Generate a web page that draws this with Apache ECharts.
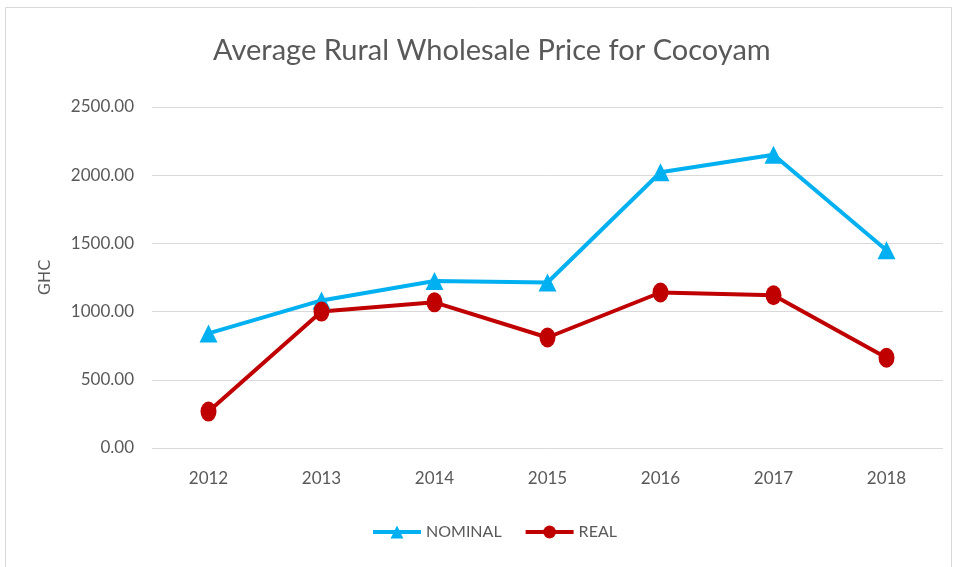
<!DOCTYPE html>
<html><head><meta charset="utf-8">
<script src="https://cdn.jsdelivr.net/npm/echarts@6/dist/echarts.min.js"></script>
<style>html,body{margin:0;padding:0;background:#fff}#c{width:955px;height:567px}</style>
</head><body><div id="c"></div>
<script>
const years = ['2012','2013','2014','2015','2016','2017','2018'];
const nominal = [840, 1082, 1225, 1213, 2022, 2150, 1450];
const real = [267, 1000, 1068, 810, 1140, 1120, 662];
const yTicks = [0, 500, 1000, 1500, 2000, 2500];

const chart = echarts.init(document.getElementById('c'));
const txt = '#595959';
const font = 'Lato, "Open Sans", sans-serif';
chart.setOption({
  animation: false,
  graphic: [{type:'rect', shape:{x:5.5,y:7.5,width:946,height:570}, style:{fill:'none', stroke:'#d9d9d9', lineWidth:1}}],
  title: {text:'Average Rural Wholesale Price for Cocoyam', left:208, top:31,
    textStyle:{fontFamily:font, fontSize:29, fontWeight:'normal', color:txt}},
  legend: {bottom:22, left:366, itemWidth:48, itemHeight:16, itemGap:22,
    textStyle:{fontFamily:font, fontSize:16, color:txt},
    lineStyle:{width:4},
    data:['NOMINAL','REAL']},
  grid: {left:152, right:12, top:107, bottom:119},
  xAxis: {type:'category', data:years, boundaryGap:true,
    axisLine:{show:false}, axisTick:{show:false},
    axisLabel:{fontFamily:font, fontSize:17, color:txt, margin:22}},
  yAxis: {type:'value', min:0, max:2500, interval:500,
    name:'GHC', nameLocation:'middle', nameRotate:90, nameGap:98,
    nameTextStyle:{fontFamily:'"DejaVu Sans", sans-serif', fontSize:16, color:txt},
    axisLine:{show:false}, axisTick:{show:false},
    splitLine:{lineStyle:{color:'#d9d9d9', width:1}},
    axisLabel:{fontFamily:font, fontSize:17, color:txt, margin:18,
      formatter: v => yTicks.includes(v) ? v.toFixed(2) : ''}},
  series: [
    {name:'NOMINAL', type:'line', data:nominal, symbol:'triangle', symbolSize:18,
      lineStyle:{color:'#00b0f0', width:4}, itemStyle:{color:'#00b0f0'}},
    {name:'REAL', type:'line', data:real, symbol:'circle', symbolSize:[16,20],
      lineStyle:{color:'#c00000', width:4}, itemStyle:{color:'#c00000'}}
  ]
});
</script></body></html>
